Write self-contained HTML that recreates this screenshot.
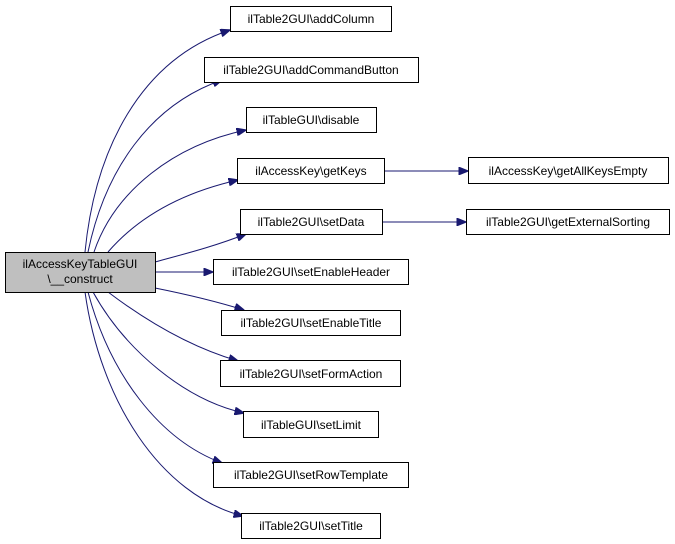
<!DOCTYPE html>
<html><head><meta charset="utf-8"><style>
body{margin:0;background:#fff}
svg{display:block}
text{font-family:"Liberation Sans",Helvetica,sans-serif;font-size:12px;fill:#000}
</style></head><body>
<svg width="675" height="544" viewBox="0 0 675 544" xmlns="http://www.w3.org/2000/svg">
<defs><marker id="a" markerWidth="10" markerHeight="8" refX="9.5" refY="4" orient="auto" markerUnits="userSpaceOnUse"><path d="M0,0 L10,4 L0,8 z" fill="#191970" stroke="#191970"/></marker></defs>
<g fill="none" stroke="#191970" stroke-width="1" marker-end="url(#a)">
<path d="M85,252 C95,150 140,60 230,30"/>
<path d="M88,252 C105,170 150,105 222,80"/>
<path d="M94,252 C115,190 175,145 246,130"/>
<path d="M108,252 C140,215 185,192 238,180"/>
<path d="M155,262 C180,255 210,248 246,234"/>
<path d="M155,272 L213,272"/>
<path d="M155,288 C185,294 215,301 244,310"/>
<path d="M108,292 C145,320 190,347 238,361"/>
<path d="M93,292 C125,350 185,400 244,413"/>
<path d="M88,292 C110,375 160,440 222,463"/>
<path d="M85,292 C100,400 160,495 243,516"/>
<path d="M384,171 L468,171"/>
<path d="M382,222 L466,222"/>
</g>
<g stroke="#000" stroke-width="1" fill="#fff">
<rect x="5.5" y="252.5" width="150" height="40" fill="#bfbfbf"/>
<rect x="230.5" y="6.5" width="161" height="25"/>
<rect x="204.5" y="57.5" width="214" height="25"/>
<rect x="246.5" y="107.5" width="130" height="25"/>
<rect x="237.5" y="158.5" width="147" height="25"/>
<rect x="240.5" y="209.5" width="142" height="25"/>
<rect x="213.5" y="259.5" width="195" height="25"/>
<rect x="221.5" y="310.5" width="179" height="25"/>
<rect x="220.5" y="360.5" width="180" height="26"/>
<rect x="243.5" y="411.5" width="135" height="26"/>
<rect x="213.5" y="462.5" width="195" height="25"/>
<rect x="241.5" y="513.5" width="139" height="25"/>
<rect x="468.5" y="157.5" width="200" height="26"/>
<rect x="466.5" y="209.5" width="203" height="25"/>
</g>
<g text-anchor="middle">
<text x="80" y="268">ilAccessKeyTableGUI</text>
<text x="80" y="283">\__construct</text>
<text x="311" y="23">ilTable2GUI\addColumn</text>
<text x="311" y="74">ilTable2GUI\addCommandButton</text>
<text x="311" y="124">ilTableGUI\disable</text>
<text x="311" y="175">ilAccessKey\getKeys</text>
<text x="311" y="226">ilTable2GUI\setData</text>
<text x="311" y="276">ilTable2GUI\setEnableHeader</text>
<text x="311" y="327">ilTable2GUI\setEnableTitle</text>
<text x="311" y="378">ilTable2GUI\setFormAction</text>
<text x="311" y="429">ilTableGUI\setLimit</text>
<text x="311" y="479">ilTable2GUI\setRowTemplate</text>
<text x="311" y="530">ilTable2GUI\setTitle</text>
<text x="568" y="175">ilAccessKey\getAllKeysEmpty</text>
<text x="568" y="226">ilTable2GUI\getExternalSorting</text>
</g>
</svg>
</body></html>
